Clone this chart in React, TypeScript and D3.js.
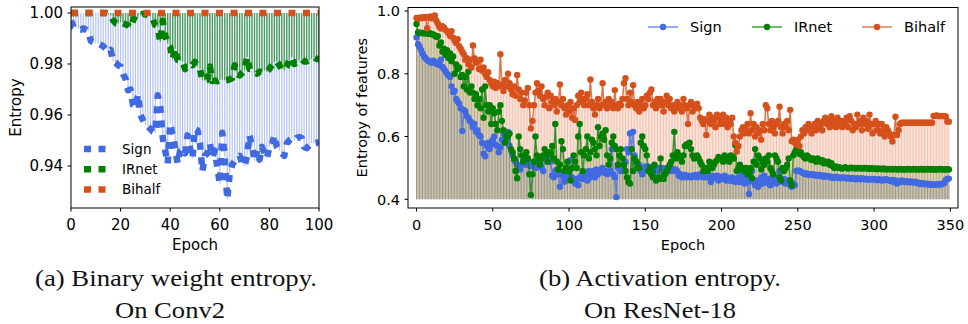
import * as d3 from 'd3';

// tick labels
const weightTicksX = [0, 20, 40, 60, 80, 100];
const weightTicksY = [0.94, 0.96, 0.98, 1.0];
const actTicksX = [0, 50, 100, 150, 200, 250, 300, 350];
const actTicksY = [0.4, 0.6, 0.8, 1.0];

const seriesNames = ['Sign', 'IRnet', 'Bihalf'];
const colors = ['#4169e1', '#008000', '#d6501b'];

// (a) binary weight entropy, one value per epoch 0..100
const signWeight = [
  0.997, 0.9945, 0.994, 0.9938, 0.9935, 0.994, 0.9935, 0.993, 0.989, 0.9886,
  0.988, 0.988, 0.9875, 0.987, 0.986, 0.9847, 0.9855, 0.981, 0.9805, 0.9795,
  0.979, 0.976, 0.9742, 0.9697, 0.970, 0.9638, 0.963, 0.968, 0.960, 0.958,
  0.956, 0.9555, 0.9546, 0.9535, 0.953, 0.9677, 0.963, 0.951, 0.946, 0.941,
  0.9566, 0.952, 0.947, 0.941, 0.946, 0.9468, 0.945, 0.952, 0.947, 0.943,
  0.9546, 0.954, 0.9488, 0.938, 0.944, 0.945, 0.9488, 0.9435, 0.946, 0.9396,
  0.933, 0.953, 0.9435, 0.927, 0.937, 0.9405, 0.942, 0.9435, 0.944, 0.941,
  0.940, 0.944, 0.952, 0.9475, 0.942, 0.946, 0.9425, 0.9475, 0.945, 0.943,
  0.9475, 0.948, 0.952, 0.9475, 0.946, 0.945, 0.944, 0.9488, 0.950, 0.9507,
  0.950, 0.951, 0.9514, 0.951, 0.9475, 0.947, 0.948, 0.949, 0.9488, 0.949,
  0.9494,
];
const irnetWeight = [
  1.0, 1.0, 1.0, 1.0, 1.0, 1.0, 1.0, 1.0, 1.0, 1.0,
  1.0, 1.0, 1.0, 1.0, 1.0, 0.9995, 0.999, 0.9971, 0.996, 0.9958,
  0.9965, 0.996, 0.9955, 0.9952, 0.9942, 0.997, 0.999, 0.9985, 0.9993, 0.9997,
  0.9995, 0.999, 0.999, 0.9975, 0.9952, 0.9945, 0.9886, 0.997, 0.9912, 0.988,
  0.9867, 0.982, 0.986, 0.9815, 0.9813, 0.981, 0.978, 0.979, 0.980, 0.9795,
  0.9808, 0.979, 0.978, 0.9736, 0.9735, 0.9738, 0.979, 0.9733, 0.9735, 0.9732,
  0.9736, 0.9738, 0.9736, 0.9737, 0.974, 0.9745, 0.9795, 0.976, 0.9755, 0.9765,
  0.9775, 0.9827, 0.978, 0.978, 0.9765, 0.9762, 0.977, 0.9768, 0.9775, 0.977,
  0.978, 0.9795, 0.9808, 0.981, 0.9795, 0.978, 0.9775, 0.979, 0.9815, 0.9827,
  0.980, 0.9805, 0.9815, 0.982, 0.981, 0.981, 0.9815, 0.982, 0.9827, 0.982,
  0.982,
];
const bihalfWeightEpochs = [0, 50, 100];
const bihalfWeight = [1.0, 1.0, 1.0];

// (b) activation entropy, one value per epoch 0..349
const signAct = [
  0.916, 0.894, 0.886, 0.876, 0.865, 0.855, 0.849, 0.845, 0.840, 0.838,
  0.835, 0.842, 0.838, 0.833, 0.830, 0.828, 0.845, 0.822, 0.815, 0.808,
  0.800, 0.795, 0.790, 0.760, 0.742, 0.745, 0.720, 0.712, 0.705, 0.690,
  0.618, 0.685, 0.680, 0.665, 0.660, 0.650, 0.645, 0.630, 0.640, 0.615,
  0.620, 0.605, 0.600, 0.580, 0.545, 0.537, 0.570, 0.580, 0.560, 0.575,
  0.590, 0.600, 0.574, 0.570, 0.550, 0.565, 0.590, 0.610, 0.600, 0.590,
  0.615, 0.570, 0.555, 0.540, 0.525, 0.520, 0.510, 0.500, 0.495, 0.510,
  0.525, 0.520, 0.510, 0.530, 0.515, 0.505, 0.510, 0.520, 0.500, 0.510,
  0.505, 0.520, 0.500, 0.490, 0.540, 0.530, 0.525, 0.535, 0.520, 0.475,
  0.470, 0.490, 0.495, 0.480, 0.440, 0.485, 0.475, 0.456, 0.480, 0.470,
  0.475, 0.525, 0.470, 0.460, 0.450, 0.465, 0.445, 0.470, 0.475, 0.465,
  0.470, 0.480, 0.460, 0.490, 0.470, 0.480, 0.490, 0.470, 0.495, 0.480,
  0.490, 0.495, 0.500, 0.485, 0.490, 0.480, 0.485, 0.490, 0.560, 0.480,
  0.470, 0.407, 0.500, 0.510, 0.490, 0.500, 0.505, 0.520, 0.560, 0.550,
  0.610, 0.560, 0.615, 0.540, 0.520, 0.500, 0.510, 0.490, 0.480, 0.495,
  0.505, 0.500, 0.505, 0.495, 0.500, 0.490, 0.500, 0.495, 0.490, 0.500,
  0.495, 0.500, 0.490, 0.495, 0.500, 0.495, 0.490, 0.500, 0.495, 0.490,
  0.495, 0.490, 0.475, 0.480, 0.470, 0.475, 0.478, 0.470, 0.475, 0.472,
  0.470, 0.475, 0.472, 0.478, 0.470, 0.475, 0.480, 0.472, 0.470, 0.475,
  0.470, 0.478, 0.472, 0.455, 0.475, 0.470, 0.468, 0.475, 0.460, 0.472,
  0.470, 0.465, 0.475, 0.460, 0.470, 0.465, 0.458, 0.470, 0.465, 0.455,
  0.460, 0.470, 0.455, 0.475, 0.460, 0.450, 0.465, 0.455, 0.417, 0.460,
  0.490, 0.455, 0.445, 0.460, 0.440, 0.455, 0.470, 0.450, 0.475, 0.460,
  0.465, 0.450, 0.445, 0.470, 0.455, 0.460, 0.450, 0.470, 0.490, 0.460,
  0.455, 0.465, 0.450, 0.460, 0.455, 0.445, 0.440, 0.450, 0.445, 0.490,
  0.492, 0.490, 0.488, 0.485, 0.482, 0.480, 0.482, 0.478, 0.480, 0.478,
  0.480, 0.476, 0.478, 0.475, 0.478, 0.474, 0.476, 0.472, 0.475, 0.473,
  0.474, 0.470, 0.472, 0.468, 0.470, 0.472, 0.468, 0.470, 0.467, 0.469,
  0.470, 0.468, 0.466, 0.469, 0.467, 0.465, 0.468, 0.466, 0.464, 0.467,
  0.466, 0.464, 0.467, 0.465, 0.463, 0.466, 0.464, 0.462, 0.465, 0.463,
  0.465, 0.463, 0.461, 0.464, 0.462, 0.460, 0.463, 0.461, 0.464, 0.462,
  0.460, 0.458, 0.462, 0.455, 0.460, 0.450, 0.458, 0.455, 0.460, 0.457,
  0.455, 0.458, 0.456, 0.454, 0.457, 0.455, 0.453, 0.456, 0.454, 0.450,
  0.452, 0.449, 0.451, 0.448, 0.450, 0.447, 0.449, 0.446, 0.448, 0.447,
  0.446, 0.448, 0.447, 0.449, 0.447, 0.450, 0.452, 0.462, 0.465, 0.466,
];
const irnetAct = [
  0.959, 0.932, 0.930, 0.931, 0.929, 0.930, 0.928, 0.931, 0.927, 0.929,
  0.926, 0.925, 0.922, 0.918, 0.920, 0.890, 0.900, 0.870, 0.880, 0.860,
  0.875, 0.850, 0.865, 0.840, 0.855, 0.800, 0.830, 0.815, 0.820, 0.790,
  0.796, 0.760, 0.790, 0.750, 0.807, 0.740, 0.760, 0.740, 0.720, 0.735,
  0.700, 0.720, 0.690, 0.750, 0.660, 0.760, 0.700, 0.680, 0.700, 0.640,
  0.690, 0.674, 0.640, 0.620, 0.680, 0.700, 0.650, 0.620, 0.580, 0.600,
  0.600, 0.610, 0.560, 0.550, 0.530, 0.490, 0.467, 0.600, 0.560, 0.540,
  0.520, 0.540, 0.550, 0.530, 0.480, 0.414, 0.480, 0.520, 0.600, 0.540,
  0.530, 0.510, 0.530, 0.540, 0.560, 0.540, 0.520, 0.550, 0.545, 0.570,
  0.530, 0.640, 0.520, 0.495, 0.510, 0.585, 0.560, 0.490, 0.500, 0.520,
  0.490, 0.460, 0.500, 0.540, 0.520, 0.500, 0.600, 0.640, 0.550, 0.490,
  0.540, 0.560, 0.600, 0.530, 0.550, 0.590, 0.580, 0.560, 0.540, 0.630,
  0.570, 0.600, 0.610, 0.590, 0.620, 0.540, 0.510, 0.530, 0.580, 0.600,
  0.570, 0.560, 0.510, 0.540, 0.560, 0.530, 0.510, 0.490, 0.470, 0.455,
  0.450, 0.560, 0.490, 0.530, 0.520, 0.500, 0.500, 0.580, 0.600, 0.570,
  0.560, 0.540, 0.490, 0.500, 0.480, 0.470, 0.510, 0.460, 0.470, 0.465,
  0.530, 0.470, 0.465, 0.480, 0.490, 0.500, 0.510, 0.520, 0.540, 0.615,
  0.530, 0.550, 0.540, 0.530, 0.520, 0.540, 0.570, 0.575, 0.570, 0.580,
  0.560, 0.540, 0.530, 0.535, 0.540, 0.530, 0.520, 0.510, 0.490, 0.495,
  0.500, 0.490, 0.520, 0.515, 0.500, 0.510, 0.520, 0.525, 0.535, 0.530,
  0.530, 0.520, 0.540, 0.535, 0.530, 0.520, 0.540, 0.535, 0.530, 0.573,
  0.490, 0.500, 0.510, 0.495, 0.500, 0.490, 0.500, 0.480, 0.485, 0.500,
  0.467, 0.520, 0.560, 0.510, 0.540, 0.530, 0.495, 0.520, 0.510, 0.530,
  0.520, 0.540, 0.500, 0.490, 0.480, 0.540, 0.530, 0.520, 0.470, 0.460,
  0.500, 0.490, 0.500, 0.510, 0.530, 0.460, 0.445, 0.540, 0.550, 0.560,
  0.550, 0.545, 0.550, 0.540, 0.535, 0.530, 0.540, 0.535, 0.530, 0.525,
  0.530, 0.525, 0.520, 0.530, 0.525, 0.520, 0.525, 0.515, 0.520, 0.515,
  0.520, 0.510, 0.515, 0.505, 0.500, 0.505, 0.500, 0.502, 0.500, 0.498,
  0.500, 0.502, 0.500, 0.498, 0.500, 0.501, 0.499, 0.500, 0.498, 0.500,
  0.499, 0.500, 0.498, 0.499, 0.500, 0.498, 0.499, 0.497, 0.499, 0.498,
  0.497, 0.498, 0.496, 0.498, 0.497, 0.496, 0.498, 0.497, 0.495, 0.497,
  0.496, 0.497, 0.495, 0.496, 0.497, 0.495, 0.496, 0.497, 0.495, 0.496,
  0.496, 0.495, 0.497, 0.496, 0.495, 0.496, 0.497, 0.495, 0.496, 0.495,
  0.496, 0.497, 0.495, 0.496, 0.495, 0.497, 0.496, 0.495, 0.496, 0.495,
  0.495, 0.496, 0.495, 0.497, 0.496, 0.495, 0.496, 0.495, 0.496, 0.495,
];
const bihalfAct = [
  0.978, 0.976, 0.979, 0.977, 0.980, 0.978, 0.981, 0.945, 0.979, 0.983,
  0.977, 0.982, 0.986, 0.970, 0.960, 0.950, 0.944, 0.952, 0.947, 0.940,
  0.936, 0.930, 0.920, 0.936, 0.915, 0.905, 0.898, 0.910, 0.888, 0.880,
  0.870, 0.862, 0.845, 0.850, 0.830, 0.845, 0.820, 0.890, 0.850, 0.835,
  0.840, 0.815, 0.845, 0.810, 0.820, 0.800, 0.790, 0.805, 0.780, 0.770,
  0.760, 0.775, 0.755, 0.770, 0.760, 0.862, 0.765, 0.745, 0.780, 0.760,
  0.800, 0.770, 0.750, 0.735, 0.760, 0.730, 0.796, 0.750, 0.720, 0.740,
  0.700, 0.715, 0.740, 0.755, 0.700, 0.626, 0.650, 0.700, 0.740, 0.770,
  0.745, 0.730, 0.760, 0.720, 0.700, 0.727, 0.740, 0.690, 0.730, 0.710,
  0.700, 0.720, 0.680, 0.710, 0.766, 0.700, 0.720, 0.690, 0.670, 0.700,
  0.680, 0.710, 0.660, 0.690, 0.653, 0.700, 0.730, 0.710, 0.740, 0.720,
  0.700, 0.720, 0.735, 0.700, 0.782, 0.710, 0.690, 0.670, 0.700, 0.720,
  0.690, 0.700, 0.770, 0.700, 0.710, 0.690, 0.720, 0.700, 0.710, 0.690,
  0.748, 0.700, 0.690, 0.705, 0.700, 0.720, 0.770, 0.786, 0.720, 0.700,
  0.740, 0.710, 0.764, 0.700, 0.690, 0.710, 0.680, 0.700, 0.720, 0.690,
  0.700, 0.730, 0.720, 0.740, 0.750, 0.700, 0.710, 0.690, 0.720, 0.700,
  0.720, 0.700, 0.680, 0.710, 0.730, 0.700, 0.720, 0.690, 0.700, 0.680,
  0.700, 0.710, 0.690, 0.700, 0.680, 0.720, 0.700, 0.690, 0.640, 0.700,
  0.710, 0.680, 0.700, 0.690, 0.705, 0.690, 0.660, 0.650, 0.640, 0.655,
  0.605, 0.650, 0.670, 0.640, 0.660, 0.650, 0.630, 0.670, 0.660, 0.640,
  0.650, 0.670, 0.640, 0.660, 0.630, 0.650, 0.640, 0.660, 0.600, 0.580,
  0.552, 0.570, 0.600, 0.620, 0.630, 0.610, 0.620, 0.640, 0.610, 0.674,
  0.620, 0.640, 0.600, 0.630, 0.610, 0.620, 0.590, 0.640, 0.620, 0.700,
  0.690, 0.640, 0.620, 0.650, 0.630, 0.610, 0.640, 0.650, 0.695, 0.630,
  0.610, 0.640, 0.630, 0.650, 0.620, 0.685, 0.585, 0.590, 0.580, 0.575,
  0.590, 0.570, 0.600, 0.620, 0.610, 0.630, 0.620, 0.640, 0.630, 0.610,
  0.630, 0.640, 0.620, 0.650, 0.630, 0.640, 0.620, 0.650, 0.660, 0.640,
  0.650, 0.630, 0.665, 0.640, 0.650, 0.630, 0.660, 0.640, 0.650, 0.630,
  0.650, 0.640, 0.660, 0.630, 0.665, 0.650, 0.620, 0.640, 0.630, 0.670,
  0.640, 0.650, 0.620, 0.660, 0.640, 0.650, 0.625, 0.670, 0.640, 0.610,
  0.640, 0.650, 0.620, 0.640, 0.610, 0.640, 0.620, 0.600, 0.630, 0.620,
  0.610, 0.600, 0.584, 0.605, 0.663, 0.605, 0.620, 0.640, 0.644, 0.644,
  0.644, 0.644, 0.644, 0.644, 0.644, 0.644, 0.644, 0.644, 0.644, 0.644,
  0.644, 0.644, 0.644, 0.644, 0.644, 0.644, 0.644, 0.644, 0.644, 0.666,
  0.666, 0.667, 0.666, 0.665, 0.666, 0.665, 0.666, 0.664, 0.648, 0.647,
];

const font = 'DejaVu Sans';

export default function App() {
  // panel (a)
  const xL = d3.scaleLinear().domain([0, 100]).range([71, 319]);
  const yL = d3.scaleLinear().domain([0.92353, 1.00235]).range([208, 7]);
  // panel (b)
  const xR = d3.scaleLinear().domain([-5.57, 355]).range([408, 958]);
  const yR = d3.scaleLinear().domain([0.3723, 1.0112]).range([208, 7.5]);

  const weightLine = d3.line<number>().x((_, i) => xL(i)).y((v) => yL(v));
  const bihalfLine = d3.line<number>().x((_, i) => xL(bihalfWeightEpochs[i])).y((v) => yL(v));
  const actLine = d3.line<number>().x((_, i) => xR(i)).y((v) => yR(v));

  // vertical stems from a base value to each point
  const stemsFrom = (vals: number[], x: (i: number) => number, y: (v: number) => number, base: number) =>
    vals.map((v, i) => `M${x(i)},${y(base)}V${y(v)}`).join('');

  const dash = '7 7.5';
  const actSeries = [signAct, irnetAct, bihalfAct];
  const stemOpacity = [0.3, 0.3, 0.35];

  const [lx0, lx1] = xL.range();
  const [ly0, ly1] = [yL.range()[1], yL.range()[0]];
  const [rx0, rx1] = xR.range();
  const [ry0, ry1] = [yR.range()[1], yR.range()[0]];

  return (
    <svg width={968} height={324} style={{ position: 'absolute', left: 0, top: 0, background: '#fff' }} fontFamily={font}>
      <defs>
        <clipPath id="clipA"><rect x={lx0} y={ly0} width={lx1 - lx0} height={ly1 - ly0} /></clipPath>
        <clipPath id="clipB"><rect x={rx0} y={ry0} width={rx1 - rx0} height={ry1 - ry0} /></clipPath>
      </defs>

      {/* ---------- (a) weight entropy ---------- */}
      <g clipPath="url(#clipA)">
        <path d={stemsFrom(signWeight, xL, yL, 1.0)} stroke={colors[0]} strokeOpacity={0.4} strokeWidth={1.2} />
        <path d={stemsFrom(irnetWeight, xL, yL, 1.0)} stroke={colors[1]} strokeOpacity={0.6} strokeWidth={1.4} />
        <path d={weightLine(signWeight)!} fill="none" stroke={colors[0]} strokeWidth={6.5} strokeDasharray={dash} strokeLinejoin="round" />
        <path d={weightLine(irnetWeight)!} fill="none" stroke={colors[1]} strokeWidth={6.5} strokeDasharray={dash} strokeLinejoin="round" />
        <path d={bihalfLine(bihalfWeight)!} fill="none" stroke={colors[2]} strokeWidth={6.5} strokeDasharray={dash} />
      </g>
      <rect x={lx0} y={ly0} width={lx1 - lx0} height={ly1 - ly0} fill="none" stroke="#000" strokeWidth={1} />
      {weightTicksX.map((t) => (
        <g key={'ax' + t}>
          <line x1={xL(t)} x2={xL(t)} y1={ly1} y2={ly1 + 3.5} stroke="#000" />
          <text x={xL(t)} y={230} fontSize={15} textAnchor="middle">{t}</text>
        </g>
      ))}
      {weightTicksY.map((t) => (
        <g key={'ay' + t}>
          <line x1={lx0 - 3.5} x2={lx0} y1={yL(t)} y2={yL(t)} stroke="#000" />
          <text x={lx0 - 8} y={yL(t)} dy="0.36em" fontSize={15} textAnchor="end">{d3.format('.2f')(t)}</text>
        </g>
      ))}
      <text x={(lx0 + lx1) / 2} y={250} fontSize={15} textAnchor="middle">Epoch</text>
      <text transform={`translate(21,${(ly0 + ly1) / 2}) rotate(-90)`} fontSize={15} textAnchor="middle">Entropy</text>
      {seriesNames.map((s, i) => (
        <g key={'la' + s}>
          <line x1={84} x2={105.5} y1={149 + i * 20.2} y2={149 + i * 20.2} stroke={colors[i]} strokeWidth={6.5} strokeDasharray={dash} />
          <text x={122} y={149 + i * 20.2} dy="0.36em" fontSize={13.5}>{s}</text>
        </g>
      ))}

      {/* ---------- (b) activation entropy ---------- */}
      <g clipPath="url(#clipB)">
        {actSeries.map((vals, k) => (
          <path key={'st' + k} d={stemsFrom(vals, xR, yR, 0.4)} stroke={colors[k]} strokeOpacity={stemOpacity[k]} strokeWidth={1} />
        ))}
        {actSeries.map((vals, k) => (
          <g key={'ln' + k}>
            <path d={actLine(vals)!} fill="none" stroke={colors[k]} strokeOpacity={0.75} strokeWidth={1.5} />
            {vals.map((v, i) => (
              <circle key={i} cx={xR(i)} cy={yR(v)} r={3.2} fill={colors[k]} />
            ))}
          </g>
        ))}
      </g>
      <rect x={rx0} y={ry0} width={rx1 - rx0} height={ry1 - ry0} fill="none" stroke="#000" strokeWidth={1} />
      {actTicksX.map((t) => (
        <g key={'bx' + t}>
          <line x1={xR(t)} x2={xR(t)} y1={ry1} y2={ry1 + 3.5} stroke="#000" />
          <text x={xR(t)} y={230} fontSize={14.5} textAnchor="middle">{t}</text>
        </g>
      ))}
      {actTicksY.map((t) => (
        <g key={'by' + t}>
          <line x1={rx0 - 3.5} x2={rx0} y1={yR(t)} y2={yR(t)} stroke="#000" />
          <text x={rx0 - 8} y={yR(t)} dy="0.36em" fontSize={14.5} textAnchor="end">{d3.format('.1f')(t)}</text>
        </g>
      ))}
      <text x={(rx0 + rx1) / 2} y={250} fontSize={14.5} textAnchor="middle">Epoch</text>
      <text transform={`translate(367,${(ry0 + ry1) / 2}) rotate(-90)`} fontSize={14.5} textAnchor="middle">Entropy of features</text>
      {seriesNames.map((s, i) => {
        const x0 = [648, 752, 862][i];
        return (
          <g key={'lb' + s}>
            <line x1={x0} x2={x0 + 30} y1={27} y2={27} stroke={colors[i]} strokeOpacity={0.75} strokeWidth={1.5} />
            <circle cx={x0 + 15} cy={27} r={3.2} fill={colors[i]} />
            <text x={x0 + 42} y={27} dy="0.36em" fontSize={14.5}>{s}</text>
          </g>
        );
      })}

      {/* ---------- captions ---------- */}
      <g fontFamily="Liberation Serif" fontSize={23.5} fill="#111">
        <text x={35} y={286} textLength={282} lengthAdjust="spacingAndGlyphs">(a) Binary weight entropy.</text>
        <text x={115} y={318} textLength={110} lengthAdjust="spacingAndGlyphs">On Conv2</text>
        <text x={539} y={286} textLength={242} lengthAdjust="spacingAndGlyphs">(b) Activation entropy.</text>
        <text x={584} y={318} textLength={152} lengthAdjust="spacingAndGlyphs">On ResNet-18</text>
      </g>
    </svg>
  );
}
